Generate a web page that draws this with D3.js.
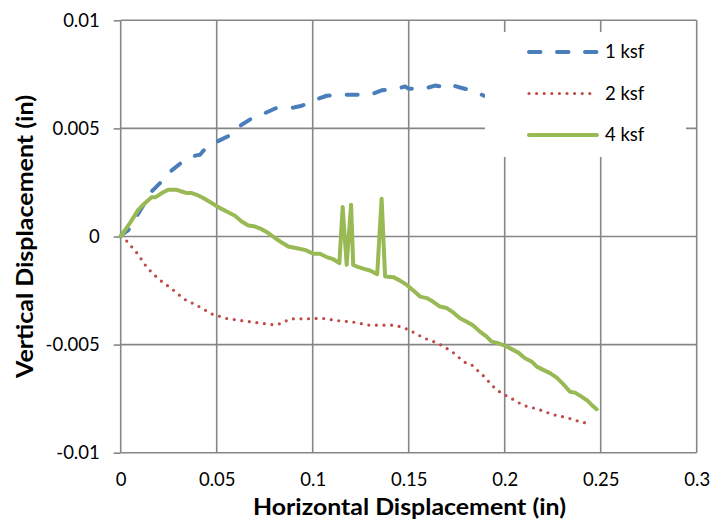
<!DOCTYPE html>
<html>
<head>
<meta charset="utf-8">
<script src="https://cdn.jsdelivr.net/npm/d3@7"></script>
<style>
  body { margin: 0; background: #fff; }
  svg { display: block; }
  text { font-family: Lato, "Open Sans", "Liberation Sans", sans-serif; fill: #000; }
</style>
</head>
<body>
<svg id="chart" width="724" height="523"></svg>
<script>
// Tick values and labels
const xTicks = [0, 0.05, 0.1, 0.15, 0.2, 0.25, 0.3];
const xTickLabels = ["0", "0.05", "0.1", "0.15", "0.2", "0.25", "0.3"];
const yTicks = [-0.01, -0.005, 0, 0.005, 0.01];
const yTickLabels = ["-0.01", "-0.005", "0", "0.005", "0.01"];
const seriesNames = ["1 ksf", "2 ksf", "4 ksf"];

// 1 ksf: horizontal (in) vs vertical (in)
const h1 = [0, 0.0005, 0.004, 0.0161, 0.0214, 0.0266, 0.0318, 0.0388, 0.0413, 0.0435, 0.0505, 0.0564,
  0.063, 0.0679, 0.0752, 0.0807, 0.0887, 0.0943, 0.1017, 0.1073, 0.1156, 0.122, 0.1302, 0.1359,
  0.1438, 0.1481, 0.1498, 0.1576, 0.1637, 0.1715, 0.1732, 0.1776, 0.1845, 0.1892];
const v1 = [0, 0.00008, 0.0003, 0.00208, 0.00255, 0.00306, 0.00343, 0.00374, 0.00378, 0.00401, 0.0044, 0.00466,
  0.00517, 0.00544, 0.00571, 0.00593, 0.00594, 0.00605, 0.00633, 0.00651, 0.00656, 0.00656, 0.00656, 0.00676,
  0.00684, 0.00694, 0.00684, 0.00682, 0.00698, 0.00687, 0.00698, 0.00687, 0.00671, 0.00651];

// 2 ksf
const h2 = [0, 0.0034, 0.0089, 0.0137, 0.0196, 0.0266, 0.0331, 0.0404, 0.0474, 0.0555, 0.0637, 0.072,
  0.0804, 0.0842, 0.088, 0.096, 0.1045, 0.1128, 0.1211, 0.1293, 0.1422, 0.1464, 0.1502, 0.1578,
  0.1653, 0.1725, 0.179, 0.1828, 0.1891, 0.1949, 0.1982, 0.2021, 0.2097, 0.2175, 0.2252, 0.233,
  0.2408, 0.2453];
const v2 = [0, -0.00023, -0.00081, -0.00144, -0.00196, -0.00242, -0.0029, -0.00322, -0.00358, -0.0038, -0.0039, -0.004,
  -0.00409, -0.004, -0.00381, -0.00381, -0.00378, -0.00389, -0.00396, -0.0041, -0.0041, -0.00419, -0.00432, -0.00469,
  -0.00494, -0.00532, -0.00581, -0.00594, -0.00646, -0.00702, -0.00724, -0.00742, -0.00781, -0.00799, -0.00824, -0.00839,
  -0.00861, -0.00861];

// 4 ksf
const h4 = [0, 0.0048, 0.0092, 0.0127, 0.0161, 0.0182, 0.0214, 0.0248, 0.0292, 0.0318, 0.0344, 0.037,
  0.0396, 0.043, 0.0474, 0.0508, 0.0552, 0.0595, 0.063, 0.0665, 0.07, 0.0734, 0.0769, 0.0804,
  0.0839, 0.0873, 0.0917, 0.096, 0.1003, 0.1038, 0.1073, 0.1107, 0.1139, 0.1156, 0.1177, 0.12,
  0.1211, 0.1238, 0.1272, 0.1298, 0.1336, 0.1359, 0.1377, 0.142, 0.1455, 0.149, 0.1524, 0.1559,
  0.1594, 0.1628, 0.1663, 0.1698, 0.1732, 0.1767, 0.1802, 0.1836, 0.1871, 0.1906, 0.1932, 0.1967,
  0.2002, 0.2036, 0.2071, 0.2106, 0.2141, 0.2167, 0.2201, 0.2236, 0.2271, 0.2305, 0.234, 0.2366,
  0.2392, 0.2427, 0.2453, 0.2479];
const v4 = [0, 0.00062, 0.00124, 0.00155, 0.00182, 0.00182, 0.00201, 0.00216, 0.00216, 0.00208, 0.00201, 0.00201,
  0.00193, 0.00178, 0.00155, 0.00136, 0.00116, 0.00096, 0.00069, 0.00051, 0.00046, 0.00034, 0.00016, -0.00007,
  -0.00028, -0.00046, -0.00054, -0.00062, -0.0008, -0.0008, -0.00095, -0.00105, -0.00123, 0.00136, -0.00131, 0.00147,
  -0.00131, -0.00142, -0.00151, -0.00157, -0.00174, 0.00175, -0.00185, -0.00188, -0.00204, -0.00224, -0.0025, -0.00278,
  -0.00285, -0.00302, -0.00324, -0.00331, -0.00351, -0.00378, -0.00394, -0.00412, -0.0044, -0.00463, -0.00486, -0.00494,
  -0.00505, -0.00521, -0.00537, -0.00563, -0.00579, -0.00602, -0.00617, -0.00632, -0.00653, -0.00683, -0.00718, -0.00722,
  -0.00736, -0.00756, -0.00779, -0.00799];

const svg = d3.select("#chart");
const plot = { left: 120.7, right: 696.7, top: 20.3, bottom: 452.7 };

const x = d3.scaleLinear().domain([0, 0.3]).range([plot.left, plot.right]);
const y = d3.scaleLinear().domain([-0.01, 0.01]).range([plot.bottom, plot.top]);

const gridColor = "#868686";
const labelSize = 18.5;

// Grid
const grid = svg.append("g").attr("stroke", gridColor).attr("stroke-width", 1.6);
grid.selectAll("line.v").data(xTicks).join("line")
  .attr("class", "v")
  .attr("x1", d => x(d)).attr("x2", d => x(d))
  .attr("y1", plot.top).attr("y2", plot.bottom);
grid.selectAll("line.h").data(yTicks).join("line")
  .attr("class", "h")
  .attr("x1", plot.left).attr("x2", plot.right)
  .attr("y1", d => y(d)).attr("y2", d => y(d));

// Y axis: ticks and labels
const yAxis = svg.append("g")
  .attr("transform", `translate(${plot.left},0)`)
  .call(d3.axisLeft(y).tickValues(yTicks).tickFormat((d, i) => yTickLabels[i]).tickSize(7).tickPadding(14));
yAxis.select(".domain").remove();
yAxis.selectAll(".tick line").attr("stroke", gridColor).attr("stroke-width", 1.6);
yAxis.selectAll(".tick text").attr("font-size", labelSize).attr("font-family", "Lato, 'Open Sans', sans-serif");

// X axis labels along the bottom
const xAxis = svg.append("g")
  .attr("transform", `translate(0,${plot.bottom})`)
  .call(d3.axisBottom(x).tickValues(xTicks).tickFormat((d, i) => xTickLabels[i]).tickSize(0).tickPadding(20));
xAxis.select(".domain").remove();
xAxis.selectAll(".tick text").attr("font-size", labelSize).attr("font-family", "Lato, 'Open Sans', sans-serif");

// Series
const series = [
  { name: seriesNames[0], h: h1, v: v1, color: "#4A7EBB", width: 4, dash: "11 17", cap: "round" },
  { name: seriesNames[1], h: h2, v: v2, color: "#BE4B48", width: 3.2, dash: "0 7.6", cap: "round" },
  { name: seriesNames[2], h: h4, v: v4, color: "#98B954", width: 4, dash: null, cap: "round" }
];

const line = d3.line().x(d => x(d[0])).y(d => y(d[1]));

svg.append("g").selectAll("path").data(series).join("path")
  .attr("d", s => line(s.h.map((hv, i) => [hv, s.v[i]])))
  .attr("fill", "none")
  .attr("stroke", s => s.color)
  .attr("stroke-width", s => s.width)
  .attr("stroke-dasharray", s => s.dash)
  .attr("stroke-linecap", s => s.cap)
  .attr("stroke-linejoin", "round");

// Legend
const legend = svg.append("g");
legend.append("rect")
  .attr("x", 485).attr("y", 32).attr("width", 201).attr("height", 125)
  .attr("fill", "#fff");
const rows = legend.selectAll("g.row").data(series).join("g")
  .attr("class", "row")
  .attr("transform", (d, i) => `translate(0,${52 + i * 41.5})`);
rows.append("line")
  .attr("x1", 529).attr("x2", 597).attr("y1", 0).attr("y2", 0)
  .attr("stroke", d => d.color)
  .attr("stroke-width", d => d.width)
  .attr("stroke-dasharray", d => d.name === seriesNames[0] ? "11.5 16.5" : d.dash)
  .attr("stroke-linecap", d => d.cap);
rows.append("text")
  .attr("x", 605).attr("y", 0).attr("dy", "0.35em")
  .attr("font-size", labelSize)
  .text(d => d.name);

// Axis titles
svg.append("text")
  .attr("x", 409.5).attr("y", 515)
  .attr("text-anchor", "middle")
  .attr("font-size", 22).attr("font-weight", "bold")
  .attr("textLength", 313).attr("lengthAdjust", "spacingAndGlyphs")
  .text("Horizontal Displacement (in)");

svg.append("text")
  .attr("transform", `translate(33,236.5) rotate(-90)`)
  .attr("text-anchor", "middle")
  .attr("font-size", 22).attr("font-weight", "bold")
  .attr("textLength", 283).attr("lengthAdjust", "spacingAndGlyphs")
  .text("Vertical Displacement (in)");
</script>
</body>
</html>
